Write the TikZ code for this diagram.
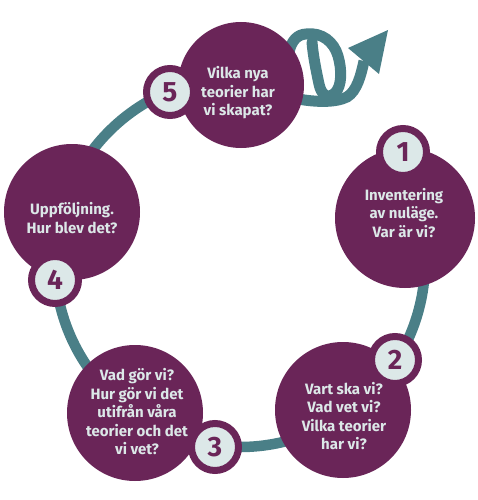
\documentclass[tikz,border=0pt]{standalone}
\usepackage{fontspec}
\setmainfont{Fira Sans}
\definecolor{plum}{HTML}{6A2558}
\definecolor{ringteal}{HTML}{4A7F87}
\definecolor{pale}{HTML}{DCE8E8}
\begin{document}
\begin{tikzpicture}[x=1pt,y=-1pt,
  bubble/.style={circle, fill=plum, draw=none, minimum size=#1, inner sep=0pt},
  badge/.style={circle, fill=pale, draw=plum, line width=7pt, minimum size=47pt, inner sep=0pt,
    font=\bfseries\fontsize{28}{28}\selectfont, text=plum},
  qtext/.style={align=center, text=pale, font=\bfseries\fontsize{15}{18.5}\selectfont},
  band/.style={draw=ringteal, line width=10.5pt}]
\useasboundingbox (0,0) rectangle (478,500);
% ring
\coordinate (ringc) at (240,262);
\draw[band] (ringc) ++(-40:185) arc[start angle=-40, end angle=270, radius=185];
% coil: loops
\coordinate (coilA) at (290,86);
\coordinate (coilTop) at (306,34);
\coordinate (coilRight) at (338,56);
\coordinate (coilLow) at (335,93);
\coordinate (coilDiag) at (312,42);
\draw[band, line width=11pt, line cap=round]
  (coilA) .. controls (285,60) and (288,35) .. (coilTop)
  .. controls (322,32) and (334,42) .. (coilRight)
  .. controls (342,70) and (342,86) .. (coilLow)
  .. controls (327,100) and (321,94) .. (319,84)
  .. controls (316,70) and (313,55) .. (coilDiag);
% coil: tail with arrow
\coordinate (tailA) at (298,99);
\coordinate (tip) at (388,30);
\coordinate (wingA) at (348,48);
\coordinate (wingB) at (379,74);
\coordinate (basemid) at (364,61);
\draw[band, line width=11pt]
  (tailA) .. controls (315,102) and (335,103) .. (347,97)
  .. controls (357,91) and (361,75) .. (basemid);
\fill[ringteal] (tip) -- (wingA) -- (wingB) -- cycle;
% bubbles
\node[bubble=126pt] (c5) at (241,85) {};
\node[bubble=140pt] (c1) at (405,218) {};
\node[bubble=136pt] (c4) at (72,212) {};
\node[bubble=136pt] (c2) at (343,410) {};
\node[bubble=136pt] (c3) at (135,413) {};
% texts
\node[qtext] (t5) at (238,93) {Vilka nya\\teorier har\\vi skapat?};
\node[qtext] (t1) at (404,213) {Inventering\\av nuläge.\\Var är vi?};
\node[qtext] (t4) at (72,218) {Uppföljning.\\Hur blev det?};
\node[qtext] (t2) at (344,416) {Vart ska vi?\\Vad vet vi?\\Vilka teorier\\har vi?};
\node[qtext] (t3) at (137,412) {Vad gör vi?\\Hur gör vi det\\utifrån våra\\teorier och det\\vi vet?};
% badges
\node[badge] (b5) at (170,92) {5};
\node[badge] (b1) at (403,152) {1};
\node[badge] (b4) at (55,280) {4};
\node[badge] (b2) at (395,360) {2};
\node[badge] (b3) at (215,447) {3};
\end{tikzpicture}
\end{document}
